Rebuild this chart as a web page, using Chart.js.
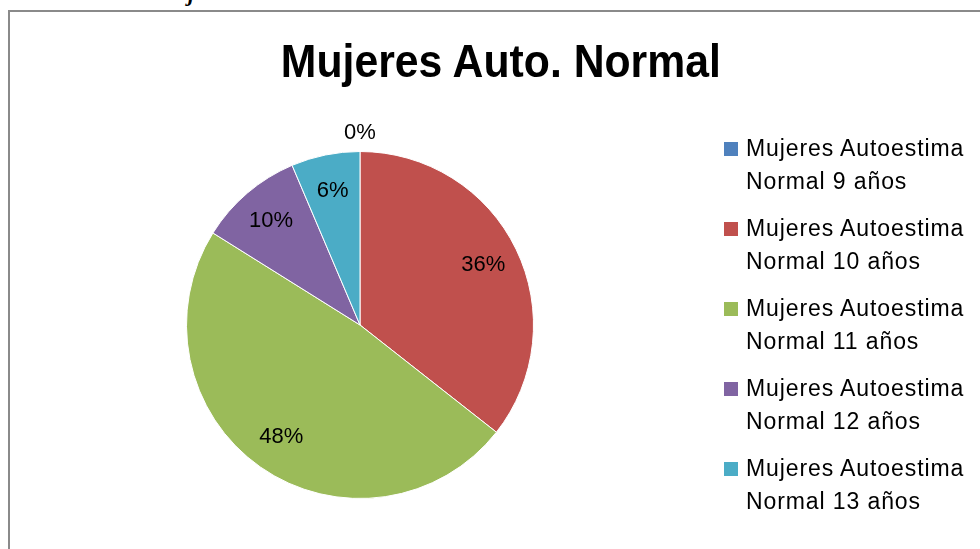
<!DOCTYPE html>
<html>
<head>
<meta charset="utf-8">
<script src="https://cdn.jsdelivr.net/npm/chart.js@4/dist/chart.umd.min.js"></script>
<style>
  html, body { margin: 0; padding: 0; background: #fff; overflow: hidden; }
  body { width: 980px; height: 549px; position: relative; font-family: "Liberation Sans", sans-serif; }
  #frame { position: absolute; left: 8px; top: 10px; width: 1100px; height: 700px; border: 2px solid #8a8a8a; box-sizing: border-box; }
  #cut { position: absolute; left: 188px; top: -19px; font: italic bold 22px "Liberation Serif", serif; color: #000; }
  #wrap { position: absolute; left: 0; top: 0; width: 1000px; height: 549px; }
  #title { position: absolute; left: 0; top: 33px; width: 1002px; text-align: center; font: bold 46px "Liberation Sans", sans-serif; line-height: 56px; color: #000; white-space: nowrap; }
  #title span { display: inline-block; transform-origin: center; }
  #legend { position: absolute; left: 724px; top: 132px; font: 23px "Liberation Sans", sans-serif; letter-spacing: 0.9px; color: #000; line-height: 33px; }
  .item { position: relative; padding-left: 22px; height: 80px; }
  .sw { position: absolute; left: 0; top: 10px; width: 14px; height: 14px; }
</style>
</head>
<body>
<div id="cut">j</div>
<div id="frame"></div>
<div id="wrap"><canvas id="chart"></canvas></div>
<div id="title"><span id="titleText"></span></div>
<div id="legend"></div>
<script>
const title = "Mujeres Auto. Normal";
const labels = [
  "Mujeres Autoestima Normal 9 años",
  "Mujeres Autoestima Normal 10 años",
  "Mujeres Autoestima Normal 11 años",
  "Mujeres Autoestima Normal 12 años",
  "Mujeres Autoestima Normal 13 años"
];
const values = [0, 35.6, 48.3, 9.7, 6.4];
const colors = ["#4F81BD", "#C0504D", "#9BBB59", "#8064A2", "#4BACC6"];

// percentage labels on the slices
const sliceLabels = {
  id: 'sliceLabels',
  afterDatasetsDraw(chart) {
    const c = chart.ctx;
    const total = values.reduce((a, b) => a + b, 0);
    c.save();
    c.font = '22px "Liberation Sans", sans-serif';
    c.fillStyle = '#000';
    c.textAlign = 'center';
    c.textBaseline = 'middle';
    chart.getDatasetMeta(0).data.forEach((arc, i) => {
      const p = arc.getProps(['x', 'y', 'startAngle', 'endAngle', 'outerRadius'], true);
      const mid = (p.startAngle + p.endAngle) / 2;
      const r = values[i] === 0 ? p.outerRadius + 19 : p.outerRadius * 0.79;
      const txt = Math.round(values[i] / total * 100) + '%';
      c.fillText(txt, p.x + Math.cos(mid) * r, p.y + Math.sin(mid) * r);
    });
    c.restore();
  }
};

const ctx = document.getElementById("chart").getContext("2d");
const chart = new Chart(ctx, {
  type: 'pie',
  data: {
    labels: labels,
    datasets: [{
      data: values,
      backgroundColor: colors,
      borderColor: '#fff',
      borderWidth: 1
    }]
  },
  options: {
    responsive: true,
    maintainAspectRatio: false,
    animation: false,
    layout: { padding: { left: 186, right: 466, top: 151, bottom: 50 } },
    plugins: {
      legend: { display: false },
      tooltip: { enabled: false },
      title: { display: false }
    }
  },
  plugins: [sliceLabels]
});

// title, squeezed to the width of the original
const tt = document.getElementById("titleText");
tt.textContent = title;
tt.style.transform = 'scaleX(' + (440 / tt.getBoundingClientRect().width) + ')';

// legend on the right, two lines per entry
const legendEl = document.getElementById("legend");
labels.forEach((lab, i) => {
  const parts = lab.split(" ");
  const div = document.createElement("div");
  div.className = "item";
  div.innerHTML = '<span class="sw" style="background:' + colors[i] + '"></span>' +
    parts.slice(0, 2).join(" ") + '<br>' + parts.slice(2).join(" ");
  legendEl.appendChild(div);
});
</script>
</body>
</html>
